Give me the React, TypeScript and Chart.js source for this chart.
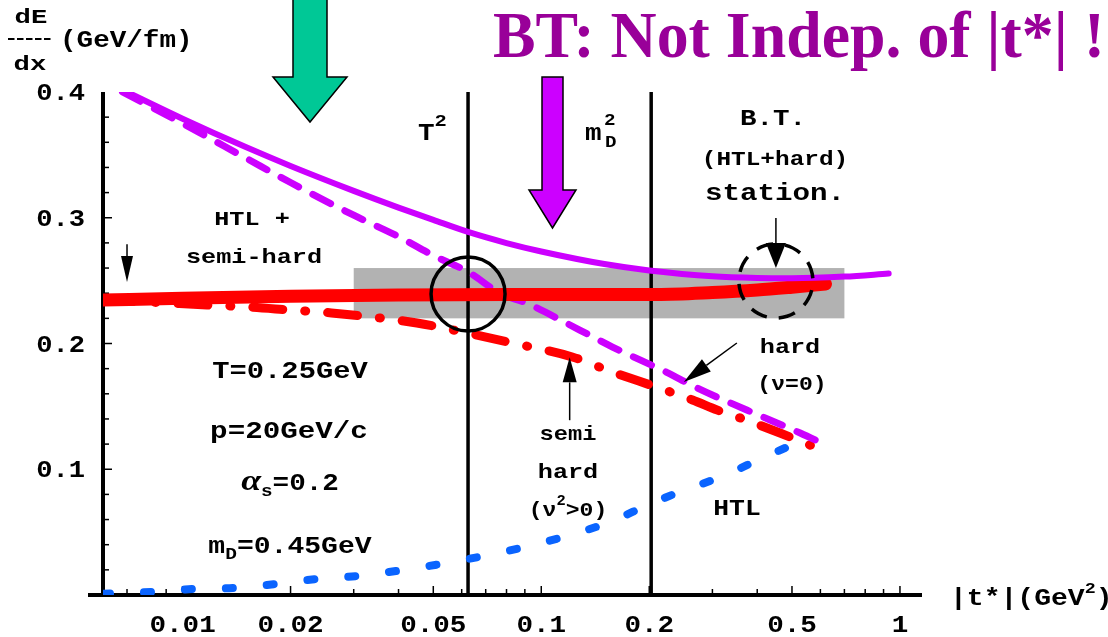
import { useEffect, useRef } from "react";
import { Chart, registerables } from "chart.js";

Chart.register(...registerables);

// |t*| in GeV^2 against dE/dx in GeV/fm, one pair of arrays per curve.

// B.T. sum, HTL + semi-hard (thick red)
const htlSemiX = [0.006, 0.01, 0.02, 0.04, 0.08, 0.15, 0.21, 0.3, 0.4, 0.5, 0.62];
const htlSemiY = [0.2346, 0.236, 0.2375, 0.2385, 0.239, 0.239, 0.239, 0.2405, 0.2425, 0.2448, 0.2473];

// semi-hard part, nu^2 > 0 (red dash-dot)
const semiHardX = [0.006, 0.008, 0.0117, 0.0154, 0.02, 0.026, 0.045, 0.063, 0.083, 0.122, 0.158, 0.213, 0.264, 0.31, 0.357, 0.463, 0.627];
const semiHardY = [0.2346, 0.233, 0.2306, 0.229, 0.2266, 0.2243, 0.2163, 0.208, 0.2004, 0.1893, 0.1773, 0.1646, 0.1551, 0.147, 0.141, 0.1288, 0.1137];

// B.T. sum, HTL + hard (purple solid)
const htlHardX = [0.007, 0.01, 0.015, 0.02, 0.03, 0.04, 0.05, 0.0625, 0.08, 0.1, 0.15, 0.2, 0.3, 0.4, 0.5, 0.7, 0.93];
const htlHardY = [0.4, 0.3788, 0.3562, 0.3412, 0.3214, 0.3081, 0.2983, 0.2887, 0.2799, 0.2732, 0.2632, 0.2581, 0.2534, 0.2521, 0.2519, 0.2532, 0.2556];

// hard part, nu = 0 (purple dashed)
const hardX = [0.0068, 0.01, 0.015, 0.02, 0.03, 0.04, 0.05, 0.0625, 0.0767, 0.0911, 0.128, 0.158, 0.223, 0.272, 0.374, 0.527, 0.63];
const hardY = [0.4, 0.375, 0.3475, 0.328, 0.302, 0.285, 0.27, 0.257, 0.24, 0.232, 0.2107, 0.1972, 0.1773, 0.1646, 0.1471, 0.1288, 0.1185];

// HTL part (blue dotted)
const htlX = [0.006, 0.0082, 0.0107, 0.014, 0.0181, 0.0236, 0.0307, 0.0394, 0.0625, 0.1, 0.15, 0.2, 0.2386, 0.3156, 0.414, 0.53];
const htlY = [0.001, 0.0024, 0.0048, 0.0056, 0.0087, 0.0127, 0.0151, 0.0191, 0.0286, 0.0414, 0.0565, 0.072, 0.0811, 0.0938, 0.109, 0.1225];

const X_TICKS = [0.01, 0.02, 0.05, 0.1, 0.2, 0.5, 1];
const X_TICK_LABELS = ["0.01", "0.02", "0.05", "0.1", "0.2", "0.5", "1"];
const Y_TICKS = [0.1, 0.2, 0.3, 0.4];
const Y_TICK_LABELS = ["0.1", "0.2", "0.3", "0.4"];

const T2 = 0.0625; // T^2, T = 0.25 GeV
const MD2 = 0.2025; // m_D^2, m_D = 0.45 GeV
const BAND_X = [0.03, 0.7];
const BAND_Y = [0.22, 0.26];

const MONO = "'Liberation Mono', monospace";
const SERIF = "'Liberation Serif', serif";

const pts = (xs: number[], ys: number[]) => xs.map((x, i) => ({ x, y: ys[i] }));

type Run = { t: string; size?: number; dy?: number; font?: string };

function runs(
  ctx: CanvasRenderingContext2D,
  parts: Run[],
  x: number,
  y: number,
  size: number,
  sx: number,
  align: "left" | "center" | "right" = "center",
  color = "#000"
) {
  ctx.save();
  ctx.fillStyle = color;
  ctx.textAlign = "left";
  ctx.textBaseline = "alphabetic";
  const fonts = parts.map((p) => p.font ?? `bold ${p.size ?? size}px ${MONO}`);
  const widths = parts.map((p, i) => {
    ctx.font = fonts[i];
    return ctx.measureText(p.t).width * sx;
  });
  const total = widths.reduce((a, b) => a + b, 0);
  let cx = align === "left" ? x : align === "right" ? x - total : x - total / 2;
  parts.forEach((p, i) => {
    ctx.save();
    ctx.font = fonts[i];
    ctx.translate(cx, y + (p.dy ?? 0));
    ctx.scale(sx, 1);
    ctx.fillText(p.t, 0, 0);
    ctx.restore();
    cx += widths[i];
  });
  ctx.restore();
}

function line(ctx: CanvasRenderingContext2D, x0: number, y0: number, x1: number, y1: number) {
  ctx.beginPath();
  ctx.moveTo(x0, y0);
  ctx.lineTo(x1, y1);
  ctx.stroke();
}

function arrow(
  ctx: CanvasRenderingContext2D,
  x0: number,
  y0: number,
  x1: number,
  y1: number,
  headLen: number,
  headW: number
) {
  const a = Math.atan2(y1 - y0, x1 - x0);
  const c = Math.cos(a);
  const s = Math.sin(a);
  const bx = x1 - headLen * c;
  const by = y1 - headLen * s;
  ctx.save();
  ctx.strokeStyle = "#000";
  ctx.fillStyle = "#000";
  ctx.lineWidth = 1.5;
  line(ctx, x0, y0, bx, by);
  ctx.beginPath();
  ctx.moveTo(x1, y1);
  ctx.lineTo(bx - (headW / 2) * s, by + (headW / 2) * c);
  ctx.lineTo(bx + (headW / 2) * s, by - (headW / 2) * c);
  ctx.closePath();
  ctx.fill();
  ctx.restore();
}

function blockArrow(
  ctx: CanvasRenderingContext2D,
  cx: number,
  top: number,
  headTop: number,
  tip: number,
  shaftHalf: number,
  headHalf: number,
  color: string
) {
  ctx.save();
  ctx.beginPath();
  ctx.moveTo(cx - shaftHalf, top);
  ctx.lineTo(cx + shaftHalf, top);
  ctx.lineTo(cx + shaftHalf, headTop);
  ctx.lineTo(cx + headHalf, headTop);
  ctx.lineTo(cx, tip);
  ctx.lineTo(cx - headHalf, headTop);
  ctx.lineTo(cx - shaftHalf, headTop);
  ctx.closePath();
  ctx.fillStyle = color;
  ctx.fill();
  ctx.strokeStyle = "#000";
  ctx.lineWidth = 1.5;
  ctx.stroke();
  ctx.restore();
}

const overlay = {
  id: "overlay",
  beforeDatasetsDraw(chart: any) {
    const { ctx, chartArea: a } = chart;
    const xs = chart.scales.x;
    const ys = chart.scales.y;
    ctx.save();

    // shaded band
    const bx0 = xs.getPixelForValue(BAND_X[0]);
    const bx1 = xs.getPixelForValue(BAND_X[1]);
    const by0 = ys.getPixelForValue(BAND_Y[1]);
    const by1 = ys.getPixelForValue(BAND_Y[0]);
    ctx.fillStyle = "#b2b2b2";
    ctx.fillRect(bx0, by0, bx1 - bx0, by1 - by0);

    // axes
    ctx.strokeStyle = "#000";
    ctx.lineCap = "butt";
    ctx.lineWidth = 4;
    line(ctx, a.left, a.top, a.left, a.bottom);
    line(ctx, a.left - 15, a.bottom, a.right, a.bottom);

    // inner tick marks
    ctx.lineWidth = 1.5;
    for (let k = 1; k < 20; k++) {
      const v = k * 0.02;
      const major = k % 5 === 0;
      const p = ys.getPixelForValue(v);
      line(ctx, a.left + 2, p, a.left + (major ? 9 : 6), p);
    }
    for (let d = -3; d <= 0; d++) {
      for (let m = 1; m <= 9; m++) {
        const v = m * Math.pow(10, d);
        if (v < xs.min || v > xs.max) continue;
        const major = X_TICKS.some((t) => Math.abs(t - v) / t < 1e-6);
        const p = xs.getPixelForValue(v);
        line(ctx, p, a.bottom - 2, p, a.bottom - (major ? 9 : 6));
      }
    }

    // tick labels
    ctx.fillStyle = "#000";
    ctx.font = `bold 23px ${MONO}`;
    const asc = ctx.measureText("0").actualBoundingBoxAscent;
    xs.ticks.forEach((t: any, i: number) => {
      const p = xs.getPixelForValue(t.value);
      runs(ctx, [{ t: X_TICK_LABELS[i] }], p, 624 + asc / 2, 23, 1.2, "center");
    });
    ys.ticks.forEach((t: any, i: number) => {
      const p = ys.getPixelForValue(t.value);
      runs(ctx, [{ t: Y_TICK_LABELS[i] }], a.left - 18, p + asc / 2, 23, 1.18, "right");
    });

    // T^2 and m_D^2 markers
    ctx.lineWidth = 3.5;
    [T2, MD2].forEach((v) => {
      const p = xs.getPixelForValue(v);
      line(ctx, p, a.top, p, a.bottom);
    });
    ctx.restore();
  },
  afterDatasetsDraw(chart: any) {
    const { ctx } = chart;
    const xs = chart.scales.x;
    const ys = chart.scales.y;
    const X = (v: number) => xs.getPixelForValue(v);
    const Y = (v: number) => ys.getPixelForValue(v);
    ctx.save();

    // crossing at T^2 on the B.T. curve
    ctx.strokeStyle = "#000";
    ctx.lineWidth = 3.5;
    ctx.beginPath();
    ctx.arc(X(T2), Y(0.2394), 37, 0, Math.PI * 2);
    ctx.stroke();

    // stationary point
    ctx.setLineDash([17, 12]);
    ctx.beginPath();
    ctx.arc(X(0.451), Y(0.2497), 37, -Math.PI / 2 + 0.25, Math.PI * 1.5 + 0.25);
    ctx.stroke();
    ctx.setLineDash([]);

    arrow(ctx, X(0.451), Y(0.2998), X(0.451), Y(0.26), 25, 20);
    arrow(ctx, X(0.007), Y(0.279), X(0.007), Y(0.249), 26, 12);
    arrow(ctx, X(0.12), Y(0.139), X(0.12), Y(0.189), 25, 14);
    arrow(ctx, X(0.351), Y(0.2004), X(0.2497), Y(0.1694), 28, 15);

    // block arrows
    blockArrow(ctx, 310, -2, 77, 122, 17, 37, "#00c896");
    blockArrow(ctx, 552.5, 77, 190, 228, 10.5, 23.5, "#cc00ff");

    // title
    ctx.save();
    ctx.font = `bold 66px ${SERIF}`;
    const title = "BT: Not Indep. of |t*| !";
    const tw = ctx.measureText(title).width;
    ctx.fillStyle = "#990099";
    ctx.translate(493, 57);
    ctx.scale(612 / tw, 1);
    ctx.fillText(title, 0, 0);
    ctx.restore();

    // y axis title: dE over dx
    runs(ctx, [{ t: "dE" }], 31, 23, 21, 1.3);
    ctx.save();
    ctx.strokeStyle = "#000";
    ctx.lineWidth = 2.2;
    ctx.setLineDash([6.5, 2.5]);
    line(ctx, 8, 39, 53, 39);
    ctx.restore();
    runs(ctx, [{ t: "dx" }], 30, 70, 21, 1.3);
    runs(ctx, [{ t: "(GeV/fm)" }], 60, 47, 23, 1.2, "left");

    // x axis title
    runs(ctx, [{ t: "|t*|(GeV" }, { t: "2", size: 15, dy: -12 }, { t: ")" }], 950, 605, 23, 1.22, "left");

    // region labels
    runs(ctx, [{ t: "HTL +" }], 252, 225, 21, 1.2);
    runs(ctx, [{ t: "semi-hard" }], 254, 263, 21, 1.2);
    runs(ctx, [{ t: "T" }, { t: "2", size: 17, dy: -14 }], 418, 140, 23, 1.2, "left");
    runs(ctx, [{ t: "m" }], 585, 140, 23, 1.2, "left");
    runs(ctx, [{ t: "2" }], 604, 125, 16, 1.2, "left");
    runs(ctx, [{ t: "D" }], 605, 147, 16, 1.2, "left");
    runs(ctx, [{ t: "B.T." }], 773, 125, 22, 1.25);
    runs(ctx, [{ t: "(HTL+hard)" }], 775, 165, 20, 1.22);
    runs(ctx, [{ t: "station." }], 775, 200, 23, 1.27);
    runs(ctx, [{ t: "hard" }], 790, 353, 21, 1.2);
    runs(ctx, [{ t: "(ν=0)" }], 792, 390, 21, 1.1);
    runs(ctx, [{ t: "semi" }], 568, 440, 21, 1.13);
    runs(ctx, [{ t: "hard" }], 568, 478, 21, 1.2);
    runs(ctx, [{ t: "(ν" }, { t: "2", size: 14, dy: -11 }, { t: ">0)" }], 568, 516, 21, 1.1);
    runs(ctx, [{ t: "HTL" }], 737, 515, 22, 1.2);

    // parameters
    runs(ctx, [{ t: "T=0.25GeV" }], 290, 378, 23, 1.25);
    runs(ctx, [{ t: "p=20GeV/c" }], 289, 438, 23, 1.27);
    runs(
      ctx,
      [{ t: "α", font: `italic bold 30px ${SERIF}` }, { t: "s", size: 16, dy: 6 }, { t: "=0.2" }],
      290,
      490,
      23,
      1.2
    );
    runs(ctx, [{ t: "m" }, { t: "D", size: 16, dy: 6 }, { t: "=0.45GeV" }], 290, 553, 23, 1.22);

    ctx.restore();
  },
};

const curve = (
  xs: number[],
  ys: number[],
  color: string,
  width: number,
  dash: number[] = []
) => ({
  data: pts(xs, ys),
  borderColor: color,
  borderWidth: width,
  borderDash: dash,
  borderCapStyle: "round" as const,
  borderJoinStyle: "round" as const,
  pointRadius: 0,
  fill: false,
  cubicInterpolationMode: "monotone" as const,
});

export default function App() {
  const ref = useRef<HTMLCanvasElement>(null);

  useEffect(() => {
    const canvas = ref.current;
    if (!canvas) return;
    const chart = new Chart(canvas, {
      type: "line",
      data: {
        datasets: [
          curve(htlHardX, htlHardY, "#cc00ff", 6),
          curve(htlSemiX, htlSemiY, "#ff0000", 13),
          curve(hardX, hardY, "#cc00ff", 7, [20, 16]),
          curve(semiHardX, semiHardY, "#ff0000", 9, [30, 22, 1, 22]),
          curve(htlX, htlY, "#0a64ff", 8, [7, 34]),
        ] as any,
      },
      options: {
        responsive: false,
        animation: false,
        events: [],
        layout: { padding: { top: 92, right: 186, left: 0, bottom: 0 } },
        plugins: {
          legend: { display: false },
          tooltip: { enabled: false },
        },
        scales: {
          x: {
            type: "logarithmic",
            min: 0.006,
            max: 1.152,
            afterBuildTicks: (s: any) => {
              s.ticks = X_TICKS.map((value) => ({ value }));
            },
            afterFit: (s: any) => {
              s.height = 42;
            },
            grid: { display: false, drawTicks: false },
            border: { display: false },
            ticks: { display: false, autoSkip: false },
          },
          y: {
            type: "linear",
            min: 0,
            max: 0.4,
            afterBuildTicks: (s: any) => {
              s.ticks = Y_TICKS.map((value) => ({ value }));
            },
            afterFit: (s: any) => {
              s.width = 103;
            },
            grid: { display: false, drawTicks: false },
            border: { display: false },
            ticks: { display: false },
          },
        },
      },
      plugins: [overlay],
    });
    return () => chart.destroy();
  }, []);

  return (
    <canvas
      ref={ref}
      width={1108}
      height={637}
      style={{ position: "fixed", left: 0, top: 0, width: 1108, height: 637, display: "block", background: "#fff" }}
    />
  );
}
